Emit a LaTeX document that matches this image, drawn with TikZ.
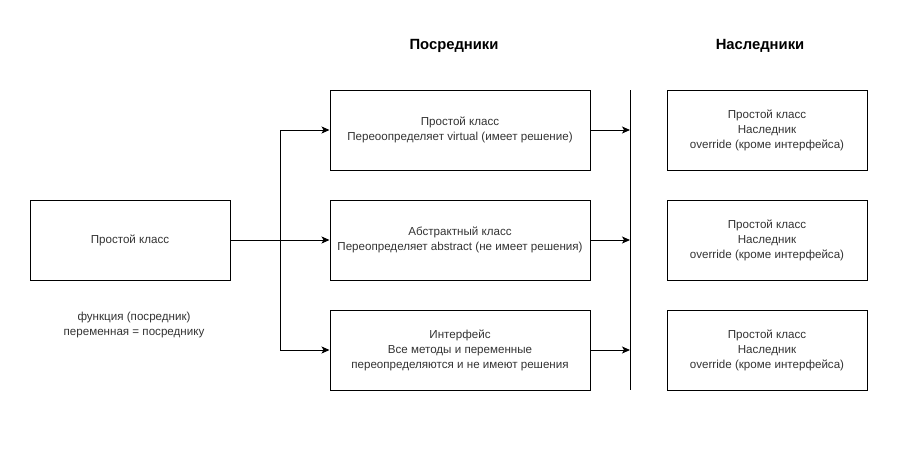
\documentclass[tikz,border=0pt]{standalone}
\usepackage{fontspec}
\setmainfont{Liberation Sans}
\usetikzlibrary{arrows.meta}
\usetikzlibrary{positioning}
\definecolor{txt}{HTML}{333333}

\begin{document}
\begin{tikzpicture}[x=1pt,y=-1pt,line width=1pt,
	box/.style={rectangle,draw=black,line width=1pt,inner sep=0pt,minimum height=80pt,align=center,text=txt,font=\fontsize{11.6}{15}\selectfont},
	wide/.style={box,minimum width=260pt},
	narrow/.style={box,minimum width=200pt},
	head/.style={font=\bfseries\fontsize{14.8}{16}\selectfont},
	arr/.style={-{Stealth[length=8pt,width=7pt,inset=2pt]}}]
	\useasboundingbox (0,0) rectangle (901,461);
	% headings
	\node[head] (hmid) at (454,46) {Посредники};
	\node[head] (hright) at (760,46) {Наследники};
	% boxes
	\node[narrow] (simple) at (130,240) {Простой класс};
	\node[wide] (virt) at (460,130) {Простой класс\\Переоопределяет virtual (имеет решение)};
	\node[wide] (abst) at (460,240) {Абстрактный класс\\Переопределяет abstract (не имеет решения)};
	\node[wide] (iface) at (460,350) {Интерфейс\\Все методы и переменные\\переопределяются и не имеют решения};
	\foreach \y/\n in {130/1,240/2,350/3}
		\node[narrow] (heir\n) at (767,\y) {Простой класс\\Наследник\\override (кроме интерфейса)};
	\node[align=center,text=txt,font=\fontsize{11.6}{15}\selectfont] (note) at (134,325) {функция (посредник)\\переменная = посреднику};
	% connectors
	\coordinate (fork) at (280,240);
	\coordinate (ltop) at (630,90);
	\coordinate (lbot) at (630,390);
	\draw (ltop) -- (lbot);
	\draw[arr] (simple.east) -- (abst.west);
	\draw[arr] (fork) |- (virt.west);
	\draw[arr] (fork) |- (iface.west);
	\foreach \b in {virt,abst,iface}
		\draw[arr] (\b.east) -- (\b.east -| ltop);
\end{tikzpicture}
\end{document}
